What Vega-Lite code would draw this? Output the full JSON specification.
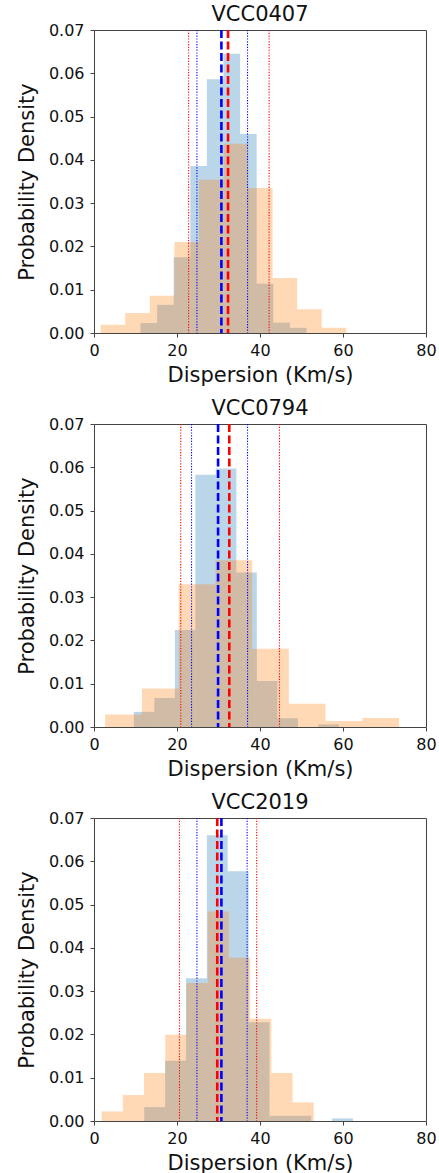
{
  "$schema": "https://vega.github.io/schema/vega-lite/v6.json",
  "padding": {"left": 15, "top": 3, "right": 4, "bottom": 0},
  "bounds": "flush",
  "spacing": 91,
  "datasets": {
    "hist": [
      {"galaxy": "VCC0407", "sample": "first", "x0": 11.2, "x1": 15.2, "density": 0.0023},
      {"galaxy": "VCC0407", "sample": "first", "x0": 15.2, "x1": 19.2, "density": 0.0065},
      {"galaxy": "VCC0407", "sample": "first", "x0": 19.2, "x1": 23.2, "density": 0.0175},
      {"galaxy": "VCC0407", "sample": "first", "x0": 23.2, "x1": 27.2, "density": 0.0386},
      {"galaxy": "VCC0407", "sample": "first", "x0": 27.2, "x1": 31.2, "density": 0.0586},
      {"galaxy": "VCC0407", "sample": "first", "x0": 31.2, "x1": 35.2, "density": 0.0645},
      {"galaxy": "VCC0407", "sample": "first", "x0": 35.2, "x1": 39.2, "density": 0.046},
      {"galaxy": "VCC0407", "sample": "first", "x0": 39.2, "x1": 43.2, "density": 0.0114},
      {"galaxy": "VCC0407", "sample": "first", "x0": 43.2, "x1": 47.2, "density": 0.0024},
      {"galaxy": "VCC0407", "sample": "first", "x0": 47.2, "x1": 51.2, "density": 0.0012},
      {"galaxy": "VCC0407", "sample": "second", "x0": 1.6, "x1": 7.52, "density": 0.0019},
      {"galaxy": "VCC0407", "sample": "second", "x0": 7.52, "x1": 13.44, "density": 0.0046},
      {"galaxy": "VCC0407", "sample": "second", "x0": 13.44, "x1": 19.36, "density": 0.0086},
      {"galaxy": "VCC0407", "sample": "second", "x0": 19.36, "x1": 25.28, "density": 0.021},
      {"galaxy": "VCC0407", "sample": "second", "x0": 25.28, "x1": 31.2, "density": 0.0354},
      {"galaxy": "VCC0407", "sample": "second", "x0": 31.2, "x1": 37.12, "density": 0.0437},
      {"galaxy": "VCC0407", "sample": "second", "x0": 37.12, "x1": 43.04, "density": 0.0335},
      {"galaxy": "VCC0407", "sample": "second", "x0": 43.04, "x1": 48.96, "density": 0.0127},
      {"galaxy": "VCC0407", "sample": "second", "x0": 48.96, "x1": 54.88, "density": 0.0055},
      {"galaxy": "VCC0407", "sample": "second", "x0": 54.88, "x1": 60.8, "density": 0.0012},
      {"galaxy": "VCC0794", "sample": "first", "x0": 9.6, "x1": 14.54, "density": 0.0035},
      {"galaxy": "VCC0794", "sample": "first", "x0": 14.54, "x1": 19.48, "density": 0.0067},
      {"galaxy": "VCC0794", "sample": "first", "x0": 19.48, "x1": 24.42, "density": 0.0224},
      {"galaxy": "VCC0794", "sample": "first", "x0": 24.42, "x1": 29.36, "density": 0.0583},
      {"galaxy": "VCC0794", "sample": "first", "x0": 29.36, "x1": 34.3, "density": 0.0597},
      {"galaxy": "VCC0794", "sample": "first", "x0": 34.3, "x1": 39.24, "density": 0.0357},
      {"galaxy": "VCC0794", "sample": "first", "x0": 39.24, "x1": 44.18, "density": 0.0106},
      {"galaxy": "VCC0794", "sample": "first", "x0": 44.18, "x1": 49.12, "density": 0.002},
      {"galaxy": "VCC0794", "sample": "first", "x0": 49.12, "x1": 54.06, "density": 0},
      {"galaxy": "VCC0794", "sample": "first", "x0": 54.06, "x1": 59.0, "density": 0.0006},
      {"galaxy": "VCC0794", "sample": "second", "x0": 2.7, "x1": 11.55, "density": 0.0029},
      {"galaxy": "VCC0794", "sample": "second", "x0": 11.55, "x1": 20.4, "density": 0.0089},
      {"galaxy": "VCC0794", "sample": "second", "x0": 20.4, "x1": 29.25, "density": 0.033},
      {"galaxy": "VCC0794", "sample": "second", "x0": 29.25, "x1": 38.1, "density": 0.0385},
      {"galaxy": "VCC0794", "sample": "second", "x0": 38.1, "x1": 46.95, "density": 0.0181},
      {"galaxy": "VCC0794", "sample": "second", "x0": 46.95, "x1": 55.8, "density": 0.0054},
      {"galaxy": "VCC0794", "sample": "second", "x0": 55.8, "x1": 64.65, "density": 0.0014},
      {"galaxy": "VCC0794", "sample": "second", "x0": 64.65, "x1": 73.5, "density": 0.0021},
      {"galaxy": "VCC2019", "sample": "first", "x0": 12.1, "x1": 17.13, "density": 0.0032},
      {"galaxy": "VCC2019", "sample": "first", "x0": 17.13, "x1": 22.16, "density": 0.0139},
      {"galaxy": "VCC2019", "sample": "first", "x0": 22.16, "x1": 27.19, "density": 0.033},
      {"galaxy": "VCC2019", "sample": "first", "x0": 27.19, "x1": 32.22, "density": 0.066},
      {"galaxy": "VCC2019", "sample": "first", "x0": 32.22, "x1": 37.25, "density": 0.0577},
      {"galaxy": "VCC2019", "sample": "first", "x0": 37.25, "x1": 42.28, "density": 0.0228},
      {"galaxy": "VCC2019", "sample": "first", "x0": 42.28, "x1": 47.31, "density": 0.0012},
      {"galaxy": "VCC2019", "sample": "first", "x0": 47.31, "x1": 52.34, "density": 0.0012},
      {"galaxy": "VCC2019", "sample": "first", "x0": 52.34, "x1": 57.37, "density": 0},
      {"galaxy": "VCC2019", "sample": "first", "x0": 57.37, "x1": 62.4, "density": 0.0006},
      {"galaxy": "VCC2019", "sample": "second", "x0": 1.85, "x1": 6.96, "density": 0.0022},
      {"galaxy": "VCC2019", "sample": "second", "x0": 6.96, "x1": 12.07, "density": 0.006},
      {"galaxy": "VCC2019", "sample": "second", "x0": 12.07, "x1": 17.18, "density": 0.0111},
      {"galaxy": "VCC2019", "sample": "second", "x0": 17.18, "x1": 22.29, "density": 0.0199},
      {"galaxy": "VCC2019", "sample": "second", "x0": 22.29, "x1": 27.4, "density": 0.0319},
      {"galaxy": "VCC2019", "sample": "second", "x0": 27.4, "x1": 32.51, "density": 0.0484},
      {"galaxy": "VCC2019", "sample": "second", "x0": 32.51, "x1": 37.62, "density": 0.0377},
      {"galaxy": "VCC2019", "sample": "second", "x0": 37.62, "x1": 42.73, "density": 0.0236},
      {"galaxy": "VCC2019", "sample": "second", "x0": 42.73, "x1": 47.84, "density": 0.0111},
      {"galaxy": "VCC2019", "sample": "second", "x0": 47.84, "x1": 52.95, "density": 0.0043}
    ],
    "lines": [
      {"galaxy": "VCC0407", "sample": "first", "kind": "center", "value": 30.7},
      {"galaxy": "VCC0407", "sample": "first", "kind": "bound", "value": 24.8},
      {"galaxy": "VCC0407", "sample": "first", "kind": "bound", "value": 37.0},
      {"galaxy": "VCC0407", "sample": "second", "kind": "center", "value": 32.3},
      {"galaxy": "VCC0407", "sample": "second", "kind": "bound", "value": 22.8},
      {"galaxy": "VCC0407", "sample": "second", "kind": "bound", "value": 42.2},
      {"galaxy": "VCC0794", "sample": "first", "kind": "center", "value": 29.9},
      {"galaxy": "VCC0794", "sample": "first", "kind": "bound", "value": 23.5},
      {"galaxy": "VCC0794", "sample": "first", "kind": "bound", "value": 37.0},
      {"galaxy": "VCC0794", "sample": "second", "kind": "center", "value": 32.6},
      {"galaxy": "VCC0794", "sample": "second", "kind": "bound", "value": 20.9},
      {"galaxy": "VCC0794", "sample": "second", "kind": "bound", "value": 44.7},
      {"galaxy": "VCC2019", "sample": "second", "kind": "center", "value": 29.7},
      {"galaxy": "VCC2019", "sample": "second", "kind": "bound", "value": 20.6},
      {"galaxy": "VCC2019", "sample": "second", "kind": "bound", "value": 39.2},
      {"galaxy": "VCC2019", "sample": "first", "kind": "center", "value": 30.7},
      {"galaxy": "VCC2019", "sample": "first", "kind": "bound", "value": 24.8},
      {"galaxy": "VCC2019", "sample": "first", "kind": "bound", "value": 36.9}
    ]
  },
  "vconcat": [
    {
      "title": "VCC0407",
      "width": 332, "height": 303,
      "layer": [
        {
          "data": {"name": "hist"},
          "transform": [{"filter": "datum.galaxy === 'VCC0407'"}],
          "mark": {"type": "rect", "fillOpacity": 0.3},
          "encoding": {
            "x": {"field": "x0", "type": "quantitative", "scale": {"domain": [0, 80]}, "title": "Dispersion (Km/s)", "axis": {"values": [0, 20, 40, 60, 80]}},
            "x2": {"field": "x1"},
            "y": {"field": "density", "type": "quantitative", "scale": {"domain": [0, 0.07]}, "title": "Probability Density", "axis": {"values": [0, 0.01, 0.02, 0.03, 0.04, 0.05, 0.06, 0.07], "format": ".2f"}},
            "y2": {"datum": 0},
            "fill": {"field": "sample", "type": "nominal", "scale": {"domain": ["first", "second"], "range": ["#1f77b4", "#ff7f0e"]}, "legend": null}
          }
        },
        {
          "data": {"name": "lines"},
          "transform": [{"filter": "datum.galaxy === 'VCC0407'"}],
          "mark": {"type": "rule"},
          "encoding": {
            "x": {"field": "value", "type": "quantitative"},
            "stroke": {"field": "sample", "type": "nominal", "scale": {"domain": ["first", "second"], "range": ["#0000ff", "#ff0000"]}, "legend": null},
            "strokeDash": {"field": "kind", "type": "nominal", "scale": {"domain": ["center", "bound"], "range": [[8, 3.5], [1.2, 1.6]]}, "legend": null},
            "strokeWidth": {"field": "kind", "type": "nominal", "scale": {"domain": ["center", "bound"], "range": [2.6, 1.1]}, "legend": null}
          }
        }
      ]
    },
    {
      "title": "VCC0794",
      "width": 332, "height": 303,
      "layer": [
        {
          "data": {"name": "hist"},
          "transform": [{"filter": "datum.galaxy === 'VCC0794'"}],
          "mark": {"type": "rect", "fillOpacity": 0.3},
          "encoding": {
            "x": {"field": "x0", "type": "quantitative", "scale": {"domain": [0, 80]}, "title": "Dispersion (Km/s)", "axis": {"values": [0, 20, 40, 60, 80]}},
            "x2": {"field": "x1"},
            "y": {"field": "density", "type": "quantitative", "scale": {"domain": [0, 0.07]}, "title": "Probability Density", "axis": {"values": [0, 0.01, 0.02, 0.03, 0.04, 0.05, 0.06, 0.07], "format": ".2f"}},
            "y2": {"datum": 0},
            "fill": {"field": "sample", "type": "nominal", "scale": {"domain": ["first", "second"], "range": ["#1f77b4", "#ff7f0e"]}, "legend": null}
          }
        },
        {
          "data": {"name": "lines"},
          "transform": [{"filter": "datum.galaxy === 'VCC0794'"}],
          "mark": {"type": "rule"},
          "encoding": {
            "x": {"field": "value", "type": "quantitative"},
            "stroke": {"field": "sample", "type": "nominal", "scale": {"domain": ["first", "second"], "range": ["#0000ff", "#ff0000"]}, "legend": null},
            "strokeDash": {"field": "kind", "type": "nominal", "scale": {"domain": ["center", "bound"], "range": [[8, 3.5], [1.2, 1.6]]}, "legend": null},
            "strokeWidth": {"field": "kind", "type": "nominal", "scale": {"domain": ["center", "bound"], "range": [2.6, 1.1]}, "legend": null}
          }
        }
      ]
    },
    {
      "title": "VCC2019",
      "width": 332, "height": 303,
      "layer": [
        {
          "data": {"name": "hist"},
          "transform": [{"filter": "datum.galaxy === 'VCC2019'"}],
          "mark": {"type": "rect", "fillOpacity": 0.3},
          "encoding": {
            "x": {"field": "x0", "type": "quantitative", "scale": {"domain": [0, 80]}, "title": "Dispersion (Km/s)", "axis": {"values": [0, 20, 40, 60, 80]}},
            "x2": {"field": "x1"},
            "y": {"field": "density", "type": "quantitative", "scale": {"domain": [0, 0.07]}, "title": "Probability Density", "axis": {"values": [0, 0.01, 0.02, 0.03, 0.04, 0.05, 0.06, 0.07], "format": ".2f"}},
            "y2": {"datum": 0},
            "fill": {"field": "sample", "type": "nominal", "scale": {"domain": ["first", "second"], "range": ["#1f77b4", "#ff7f0e"]}, "legend": null}
          }
        },
        {
          "data": {"name": "lines"},
          "transform": [{"filter": "datum.galaxy === 'VCC2019'"}],
          "mark": {"type": "rule"},
          "encoding": {
            "x": {"field": "value", "type": "quantitative"},
            "stroke": {"field": "sample", "type": "nominal", "scale": {"domain": ["first", "second"], "range": ["#0000ff", "#ff0000"]}, "legend": null},
            "strokeDash": {"field": "kind", "type": "nominal", "scale": {"domain": ["center", "bound"], "range": [[8, 3.5], [1.2, 1.6]]}, "legend": null},
            "strokeWidth": {"field": "kind", "type": "nominal", "scale": {"domain": ["center", "bound"], "range": [2.6, 1.1]}, "legend": null}
          }
        }
      ]
    }
  ],
  "config": {
    "font": "DejaVu Sans",
    "view": {"stroke": "#444", "strokeWidth": 1},
    "axis": {
      "grid": false,
      "domain": false,
      "tickColor": "#444",
      "tickSize": 4,
      "labelFontSize": 16,
      "labelColor": "#111",
      "labelFont": "DejaVu Sans",
      "titleFont": "DejaVu Sans",
      "titleFontSize": 21,
      "titleFontWeight": "normal",
      "titleColor": "#111",
      "labelFlush": false
    },
    "axisX": {"labelPadding": 5, "titlePadding": 6},
    "axisY": {"labelPadding": 6, "titlePadding": 11},
    "title": {"fontSize": 21, "fontWeight": "normal", "font": "DejaVu Sans", "color": "#111", "offset": -3}
  }
}
